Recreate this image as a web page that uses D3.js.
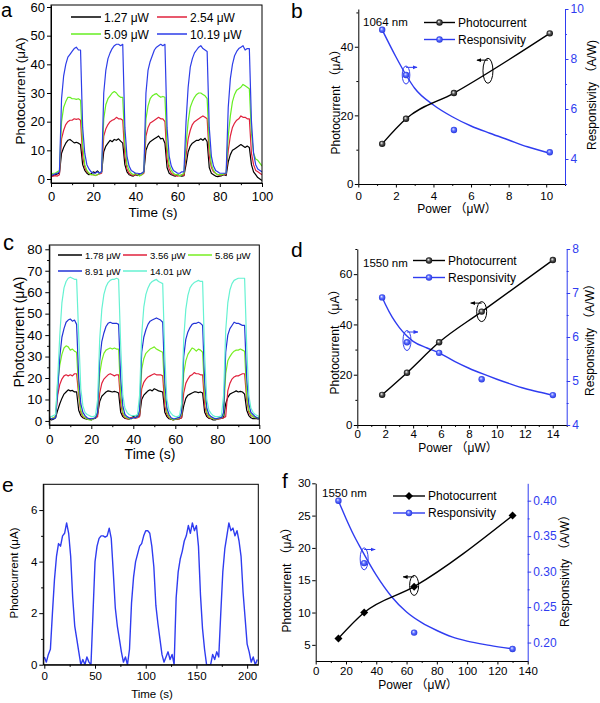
<!DOCTYPE html>
<html>
<head>
<meta charset="utf-8">
<script src="https://cdn.jsdelivr.net/npm/d3@7"></script>
<style>
  body { margin: 0; background: #fff; }
  text { font-family: "Liberation Sans", Arial, "Noto Sans CJK SC", sans-serif; }
</style>
</head>
<body>
<script>
"use strict";

// ---------- panel a : on/off traces, 1 s sampling ----------
const timeA = d3.range(0, 101);
const labelsA = ["1.27 μW", "2.54 μW", "5.09 μW", "10.19 μW"];
const blackA = [1.5,1.2,1.5,1.8,2.0,
  9,11,12.5,13.5,13.8,13.2,12.6,12.8,12.5,12.0,
  5,3,2,1.5,1.8,2.5,2.2,2.8,2.0,2.5,
  9.5,11.5,12.5,13.5,13.0,13.8,13.5,14.0,13.2,12.5,
  5,2.5,1.5,1.2,1.0,1.5,1.2,1.8,2.0,2.5,
  10,12,13,13.5,14.0,14.5,15.0,14.0,14.2,12.5,
  4,2.0,1.5,1.2,1.0,1.5,1.2,1.0,1.2,5,
  9.5,11.5,12.5,13.0,13.5,13.5,14.0,13.5,14.2,13.0,
  4,2,1.5,1.0,0.8,1.0,1.2,1.5,1.2,6,
  8.5,10,10.5,11.0,11.5,12.0,11.5,11.0,11.5,11.0,
  5,2.5,1.5,0.5,0.0,-0.5];
const redA = [0.8,1.0,1.2,1.0,1.5,
  14,17,19,20,20.5,20.5,21,20.8,21,20.5,
  8,4,2.5,2,1.5,1.5,1.2,1.5,1.8,2.0,
  15,17.5,19,20,20.5,20.8,21.5,21.0,21.0,20.5,
  8,3.5,2.0,1.5,1.2,1.5,1.5,1.2,1.5,2.0,
  15,18,19.5,20,20.5,21,21.5,21.0,21.0,20,
  7,3.5,2,1.5,1.2,1.0,1.2,1.5,1.2,8,
  14,17,19,20,20.5,21,21.5,22,21.5,21,
  8,4,2.5,2.0,1.5,1.2,1.5,1.5,1.8,10,
  15,18,19.5,20.5,21,22,21.5,21.5,21,21,
  9,5,3,2.5,2,1.5];
const greenA = [1.5,2.0,2.0,2.5,3.0,
  20,25,27,28.5,28.5,28,28,27.8,28,27.5,
  12,5,3,2,1.5,1.5,1.2,1.5,2,2.5,
  21,26,28,29,30,30.5,30,29,28.5,28.5,
  12,5,3,2,1.5,2,1.5,1.0,1.5,2.5,
  21,25.5,28,29,29.5,29.8,29,28.5,28.8,28.5,
  11,5,3,2,1.5,1.5,1.0,1.5,2,12,
  20,25,27,28.5,29.5,30,30,29.5,29,28,
  12,5,3,2,1.5,1.5,1.5,1.8,2,15,
  22,27,29.5,31,31.5,32,33,32.5,32,31.5,
  16,9,7,6.5,5.5,4.5];
const blueA = [1.0,1.5,1.8,2.0,2.5,
  28,36,40,42.5,43.5,44.5,45.5,46,45,45,
  18,9,5,3.5,2.5,2,2,2.5,2,2.5,
  30,38,42,44,45.5,46.5,47,47,46.5,47,
  18,8,4.5,3,2.5,2,2,1.8,2,2.5,
  30,38,41,43,45,46,46.5,47,46.5,47,
  18,8,4.5,3,2.5,2,2,2.5,2.5,20,
  32,39,42,44,45,46,46.5,45.5,45,44.5,
  18,8,4.5,3,2.5,2,2,2,2,25,
  35,40,43,44.5,45.5,46,46.5,45,45.5,45.5,
  20,9,5,3.5,3,2.5];

// ---------- panel c : on/off traces, 1 s sampling ----------
const timeC = d3.range(0, 101);
const labelsC = ["1.78 μW", "3.56 μW", "5.86 μW", "8.91 μW", "14.01 μW"];
const blackC = [1.0,0.5,0.8,1.5,
  5,8,10.5,12.5,13.5,14.5,14.0,14.2,13.5,13.5,
  5,2.5,1.5,1.0,0.8,1.0,0.5,1.0,1.2,
  3,9,11.5,12.5,13.5,14.0,13.8,13.5,13.8,13.5,13.0,
  4,2,1.2,1.0,0.8,1.5,2.0,2.5,2.0,
  2.5,10,12,13,14,14.5,14,15,14.5,14,13.8,13.5,
  4,2,1.0,0.8,0.5,0.8,0.8,1.0,
  1.5,7,10.5,12,12.5,13.0,13.5,13.5,13.2,13.5,13.0,
  4,2,1.2,1.0,0.5,0.5,0.8,1.0,1.2,
  1.5,8,11,12.5,13.0,13.5,14.0,13.5,13.8,13.5,12.5,
  5,2.5,1.5,1.0,1.2,1.0,1.0];
const redC = [1.5,1.0,1.5,2.0,
  12,17,19.5,21,21.5,21.0,21.5,21.0,22,22,
  12,4,2,1.5,1.0,1.0,0.8,1.0,1.5,
  2,13,17.5,19.5,20.5,21.5,22.0,21.5,21.0,21.5,21.5,
  8,3,1.5,1.0,1.0,1.5,1.5,1.2,1.5,
  2,15,18,19.5,20.5,21,21.5,22,21.5,21.5,21.5,21,
  7,3,1.5,1.0,0.5,0.8,1.0,1.0,
  1.5,13,17.5,19.5,21,21.5,22.5,22,22,21.5,21.5,
  7,3,1.5,1.2,1.0,1.0,0.8,1.0,1.2,
  1.5,2,14,17.5,19.5,20.5,21,21,21.5,22,22,
  10,4,2.5,2,1.5,1.5,1.5];
const greenC = [1.5,1.0,1.5,2.0,
  18,26,31,34,35,34.5,33,33.5,32.5,32,
  14,5,2.5,1.5,1.0,0.5,0.5,1.0,1.5,
  4,22,28,31.5,33,33.5,34,33.5,34,33.5,33.5,
  12,4,2,1.5,1.0,1.0,1.5,1.5,2,
  4,24,29,31.5,32.5,33.5,34,34.5,33.5,33,32.5,32,
  12,4,2,1.0,0.5,0.8,1.0,1.5,
  3,22,28,31,32.5,34,33.5,32.5,33.5,33,32,
  12,4,2,1.5,1.0,1.0,1.0,1.5,1.5,
  3,22,28,30,31.5,32.5,33,33,33.5,33,32.5,
  12,5,3,2,1.5,1.5,1.5];
const blueC = [1.5,1.0,1.0,1.5,
  14,30,39,43,46,47,47.5,46.5,47,45,
  20,8,4,2.5,1.5,1.0,1.0,1.2,1.5,
  4,28,37,41,44,45.5,46,45.5,45.5,45.5,45,
  20,7,3,2,1.5,1.0,1.5,1.5,2,
  5,32,39,42.5,45,46.5,47,47.5,48,47.5,47,46,
  18,6,3,1.5,1.0,1.0,1.5,1.5,
  4,30,38,41.5,43.5,45,45.5,45.5,46,45.5,44.5,
  18,6,3,2,1.5,1.0,1.2,1.5,1.5,
  4,32,40,43,44.5,46,45.5,45.5,45,44.5,44.5,
  20,8,4,3,2,1.5,1.0];
const cyanC = [2,2,2.5,3,
  20,40,55,62,65,66.5,67,66.5,66,66,
  40,15,7,4,3,2.5,2.0,2.0,2.5,
  10,38,52,59,62.5,64.5,65.5,66,66,66.5,66,
  35,12,6,4,3,2.5,2.5,2.5,3,
  12,40,53,59,62,64,65,65.5,66,65,64.5,64,
  30,10,5,3.5,2.5,2,2,2.5,
  8,38,52,58.5,62,63.5,64.5,65,65.5,65,65,
  30,10,5,3.5,2.5,2,2,2,2.5,
  12,42,55,61,64,65.5,66,66.5,66.5,66.5,66.5,
  35,12,6,4,3,2.5,2];

// ---------- panel e : single trace, 2 s sampling ----------
const timeE = d3.range(0, 211, 2);
const currentE = [0.3,0.1,0.4,0.6,2.0,3.3,4.2,4.7,4.6,5.0,
  5.1,5.5,5.1,4.2,2.6,1.5,1.0,0.5,0.0,0.2,
  0.0,0.3,0.1,0.0,2.0,4.0,4.6,4.9,5.0,5.0,
  4.95,5.0,5.3,4.9,3.6,2.2,1.5,1.0,0.5,0.1,
  0.3,0.0,0.6,2.4,3.4,4.0,4.3,4.6,4.7,5.0,
  5.2,5.2,5.1,4.6,3.8,2.3,1.6,1.0,0.4,0.1,
  0.3,0.5,0.2,0.4,0.0,2.6,3.6,4.1,4.4,4.8,
  5.0,5.4,5.1,5.5,5.2,5.4,4.6,2.7,1.4,0.6,
  0.0,0.0,0.0,0.4,0.2,0.5,0.3,2.0,3.6,4.5,
  5.0,5.5,5.2,5.3,5.0,5.2,4.8,4.2,2.8,1.8,
  0.8,0.5,0.1,0.3,0.0,0.2];

// ---------- panels b, d, f : power dependence ----------
const powerB = [1.27, 2.54, 5.09, 10.19];
const currentB = [11.7, 19.0, 26.5, 43.9];
const respB = [9.17, 7.36, 5.16, 4.27];
const fitPowerB = [1.27, 2, 2.54, 3, 4, 5, 6, 7, 8, 9, 10.19];
const fitRespB = [9.17, 8.09, 7.36, 6.83, 6.16, 5.69, 5.32, 5.03, 4.76, 4.49, 4.23];

const powerD = [1.78, 3.56, 5.86, 8.91, 14.01];
const currentD = [12.0, 20.8, 32.9, 45.1, 65.6];
const respD = [6.9, 5.88, 5.64, 5.04, 4.68];
const fitPowerD = [1.78, 2, 2.5, 3, 3.5, 4, 5, 5.86, 7, 8, 9, 10, 11, 12, 13, 14.01];
const fitRespD = [6.9, 6.75, 6.45, 6.22, 6.04, 5.9, 5.75, 5.64, 5.44, 5.29, 5.16, 5.04, 4.93, 4.83, 4.75, 4.68];

const powerF = [15, 32, 65, 130];
const currentF = [6, 10, 14, 25];
const respF = [0.40, 0.312, 0.214, 0.191];
const fitPowerF = [15, 20, 25, 30, 40, 50, 60, 70, 80, 90, 100, 115, 130];
const fitRespF = [0.40, 0.375, 0.352, 0.332, 0.295, 0.265, 0.243, 0.228, 0.217, 0.208, 0.202, 0.196, 0.191];

const BLUE = "#2f3cf0";

const svg = d3.select("body").append("svg")
  .attr("width", 600).attr("height", 703)
  .style("background", "#fff");
const defs = svg.append("defs");

function ball(id, c0, c1, c2) {
  const g = defs.append("radialGradient").attr("id", id)
    .attr("cx", "50%").attr("cy", "50%").attr("r", "55%").attr("fx", "38%").attr("fy", "35%");
  g.append("stop").attr("offset", "0%").attr("stop-color", c0);
  g.append("stop").attr("offset", "45%").attr("stop-color", c1);
  g.append("stop").attr("offset", "100%").attr("stop-color", c2);
}
ball("ballK", "#ffffff", "#555", "#000");
ball("ballB", "#e8ecff", "#5a6cff", "#1f2fd8");

[["ahK", "#000"], ["ahB", BLUE]].forEach(([id, c]) => {
  defs.append("marker").attr("id", id).attr("viewBox", "0 0 10 10")
    .attr("refX", 9).attr("refY", 5).attr("markerWidth", 5).attr("markerHeight", 5)
    .attr("orient", "auto")
    .append("path").attr("d", "M0,1L10,5L0,9z").attr("fill", c);
});

function axis(kind, scale, major, minor, o) {
  const gen = kind === "left" ? d3.axisLeft : kind === "right" ? d3.axisRight : d3.axisBottom;
  const col = o.color || "#000";
  const a = svg.append("g").attr("transform", o.at)
    .call(gen(scale).tickValues(major).tickSize(o.len).tickSizeOuter(0)
      .tickPadding(o.pad).tickFormat(o.fmt || (d => d)));
  a.select(".domain").attr("stroke", col);
  a.selectAll(".tick line").attr("stroke", col);
  a.selectAll(".tick text").attr("font-size", o.fs).attr("fill", col);
  if (minor) {
    const m = svg.append("g").attr("transform", o.at)
      .call(gen(scale).tickValues(minor).tickSize(o.len * 0.55).tickSizeOuter(0).tickFormat(""));
    m.select(".domain").remove();
    m.selectAll("line").attr("stroke", col);
  }
}

function text(x, y, s, fs, opt = {}) {
  return svg.append("text").attr("x", x).attr("y", y)
    .attr("font-size", fs).attr("fill", opt.color || "#000")
    .attr("text-anchor", opt.anchor || "start").text(s);
}

function vtext(x, y, s, fs) {
  svg.append("text").attr("transform", `translate(${x},${y}) rotate(-90)`)
    .attr("font-size", fs).attr("text-anchor", "middle").text(s);
}

function clipFor(id, x, y) {
  defs.append("clipPath").attr("id", id).append("rect")
    .attr("x", x.range()[0]).attr("y", y.range()[1])
    .attr("width", x.range()[1] - x.range()[0])
    .attr("height", y.range()[0] - y.range()[1]);
}

function box(x, y) {
  svg.append("rect")
    .attr("x", x.range()[0]).attr("y", y.range()[1])
    .attr("width", x.range()[1] - x.range()[0])
    .attr("height", y.range()[0] - y.range()[1])
    .attr("fill", "none").attr("stroke", "#000");
}

function traces(x, y, times, series, colors, clip, width) {
  const line = d3.line().x((d, i) => x(times[i])).y(d => y(d));
  svg.append("g").attr("clip-path", `url(#${clip})`)
    .selectAll("path").data(series).join("path")
    .attr("d", line).attr("fill", "none")
    .attr("stroke", (d, i) => colors[i]).attr("stroke-width", width)
    .attr("stroke-linejoin", "round");
}

// ================= panel a =================
const xA = d3.scaleLinear().domain([0, 100]).range([51, 262]);
const yA = d3.scaleLinear().domain([-1.4, 60.7]).range([183, 5]);
const colorsA = ["#000000", "#e0223c", "#66ee22", "#2d3de8"];
clipFor("clipA", xA, yA);
traces(xA, yA, timeA, [blackA, redA, greenA, blueA], colorsA, "clipA", 1.2);
axis("bottom", xA, d3.range(0, 101, 20), d3.range(10, 100, 20), { at: "translate(0,183)", len: 4, pad: 5, fs: 13 });
axis("left", yA, d3.range(0, 61, 10), null, { at: "translate(51,0)", len: 4, pad: 2, fs: 13 });
box(xA, yA);
text(153, 217, "Time (s)", 13.5, { anchor: "middle" });
vtext(25, 91, "Photocurrent (μA)", 13.5);
text(1, 17, "a", 20);
labelsA.forEach((s, i) => {
  const lx = i % 2 === 0 ? 71 : 157, ly = i < 2 ? 17 : 34;
  svg.append("line").attr("x1", lx).attr("x2", lx + 30).attr("y1", ly).attr("y2", ly)
    .attr("stroke", colorsA[i]).attr("stroke-width", 1.5);
  text(lx + 33, ly + 4.5, s, 12);
});

// ================= panel c =================
const xC = d3.scaleLinear().domain([0, 100]).range([49.3, 259.3]);
const yC = d3.scaleLinear().domain([-1.9, 82]).range([425, 245]);
const colorsC = ["#000000", "#e0223c", "#77ee22", "#2233d6", "#66f2d2"];
clipFor("clipC", xC, yC);
traces(xC, yC, timeC, [blackC, redC, greenC, blueC, cyanC], colorsC, "clipC", 1.2);
axis("bottom", xC, d3.range(0, 101, 20), d3.range(10, 100, 20), { at: "translate(0,425)", len: 4, pad: 5, fs: 13.5 });
axis("left", yC, d3.range(0, 81, 10), d3.range(5, 80, 10), { at: "translate(49.3,0)", len: 4, pad: 3, fs: 13.5 });
box(xC, yC);
text(150, 459, "Time (s)", 14, { anchor: "middle" });
vtext(24, 332, "Photocurrent (μA)", 14);
text(3, 250, "c", 22);
labelsC.forEach((s, i) => {
  const lx = [58, 123, 188][i % 3], ly = i < 3 ? 255 : 271;
  svg.append("line").attr("x1", lx).attr("x2", lx + 24).attr("y1", ly).attr("y2", ly)
    .attr("stroke", colorsC[i]).attr("stroke-width", 1.5);
  text(lx + 27, ly + 3.5, s, 9.5);
});

// ================= panel e =================
const xE = d3.scaleLinear().domain([-1, 211]).range([43.3, 258.3]);
const yE = d3.scaleLinear().domain([0, 7]).range([664.7, 484.3]);
clipFor("clipE", xE, yE);
traces(xE, yE, timeE, [currentE], [BLUE], "clipE", 1.4);
axis("bottom", xE, d3.range(0, 201, 50), d3.range(25, 200, 50), { at: "translate(0,664.7)", len: 4, pad: 3, fs: 11.5 });
axis("left", yE, [0, 2, 4, 6], [1, 3, 5], { at: "translate(43.3,0)", len: 4, pad: 2, fs: 11.5 });
box(xE, yE);
text(152, 698, "Time (s)", 11.5, { anchor: "middle" });
vtext(18, 573, "Photocurrent (μA)", 11.5);
text(2, 492, "e", 21);

// ================= panels b, d, f =================
function powerPanel(p) {
  const { x, yL, yR } = p;
  const lineI = d3.line().curve(d3.curveMonotoneX).x((d, i) => x(p.power[i])).y(d => yL(d));
  const lineR = d3.line().curve(d3.curveMonotoneX).x((d, i) => x(p.fitPower[i])).y(d => yR(d));
  svg.append("path").attr("d", lineR(p.fitResp)).attr("fill", "none").attr("stroke", BLUE).attr("stroke-width", 1.4);
  svg.append("path").attr("d", lineI(p.current)).attr("fill", "none").attr("stroke", "#000").attr("stroke-width", 1.4);

  const mark = (sel, color) => p.diamond && color === "k"
    ? sel.append("path").attr("d", "M0,-4L4,0L0,4L-4,0Z").attr("fill", "#000")
    : sel.append("circle").attr("r", 3.2).attr("fill", `url(#ball${color === "k" ? "K" : "B"})`);

  svg.append("g").selectAll("g").data(p.resp).join("g")
    .attr("transform", (d, i) => `translate(${x(p.power[i])},${yR(d)})`)
    .each(function () { mark(d3.select(this), "b"); });
  svg.append("g").selectAll("g").data(p.current).join("g")
    .attr("transform", (d, i) => `translate(${x(p.power[i])},${yL(d)})`)
    .each(function () { mark(d3.select(this), "k"); });

  const [x0, x1] = x.range(), [yb] = yL.range();
  axis("bottom", x, p.xMajor, p.xMinor, { at: `translate(0,${yb})`, len: 3.5, pad: p.xPad, fs: 11.5 });
  axis("left", yL, p.lMajor, p.lMinor, { at: `translate(${x0},0)`, len: 3.5, pad: 1.5, fs: 11.5 });
  axis("right", yR, p.rMajor, p.rMinor, { at: `translate(${x1},0)`, len: 3.5, pad: 2, fs: 12, color: BLUE, fmt: p.rFmt });

  // loops with arrows pointing at the matching axis
  p.loops.forEach(l => {
    const cx = x(l.px), cy = (l.side === "R" ? yR : yL)(l.py);
    const col = l.side === "R" ? BLUE : "#000";
    svg.append("ellipse").attr("cx", cx).attr("cy", cy).attr("rx", l.rx).attr("ry", l.ry)
      .attr("fill", "none").attr("stroke", col).attr("stroke-width", 1);
    const ay = cy - l.ry * 0.85, dir = l.side === "R" ? 1 : -1;
    svg.append("line").attr("x1", cx).attr("x2", cx + dir * 11).attr("y1", ay).attr("y2", ay)
      .attr("stroke", col).attr("marker-end", `url(#ah${l.side === "R" ? "B" : "K"})`);
  });

  // legend
  const L = p.legend;
  text(L.nmX, L.nmY, p.nm, 11.5);
  [["Photocurrent", "#000", "k", L.y1], ["Responsivity", BLUE, "b", L.y2]].forEach(([s, c, k, ly]) => {
    svg.append("line").attr("x1", L.x0).attr("x2", L.x1).attr("y1", ly).attr("y2", ly)
      .attr("stroke", c).attr("stroke-width", 1.4);
    mark(svg.append("g").attr("transform", `translate(${(L.x0 + L.x1) / 2},${ly})`), k);
    text(L.x1 + 3, ly + 4.3, s, 12);
  });

  text(p.xt[0], p.xt[1], "Power （μW）", 12, { anchor: "middle" });
  vtext(p.lt[0], p.lt[1], "Photocurrent （μA）", 12);
  vtext(p.rt[0], p.rt[1], p.rLabel, 12);
  text(p.letter[0], p.letter[1], p.letter[2], 21);
}

powerPanel({
  x: d3.scaleLinear().domain([0, 11]).range([358.3, 565]),
  yL: d3.scaleLinear().domain([0, 51]).range([184, 9]),
  yR: d3.scaleLinear().domain([3, 10]).range([184, 9]),
  power: powerB, current: currentB, resp: respB, fitPower: fitPowerB, fitResp: fitRespB,
  xMajor: d3.range(0, 11, 2), xMinor: d3.range(1, 12, 2), xPad: 4,
  lMajor: [0, 20, 40], lMinor: [10, 30, 50],
  rMajor: [4, 6, 8, 10], rMinor: [3, 5, 7, 9],
  loops: [{ px: 2.54, py: 7.36, side: "R", rx: 3.8, ry: 9 }, { px: 6.9, py: 33, side: "L", rx: 5, ry: 12.5 }],
  legend: { nmX: 363, nmY: 26, x0: 424, x1: 455, y1: 22.5, y2: 39.5 },
  nm: "1064 nm",
  xt: [457, 213], lt: [340, 99], rt: [596, 95], rLabel: "Responsivity （A/W)",
  letter: [291, 18, "b"]
});

powerPanel({
  x: d3.scaleLinear().domain([0, 15]).range([357.3, 566.7]),
  yL: d3.scaleLinear().domain([0, 70]).range([425, 249]),
  yR: d3.scaleLinear().domain([4, 8]).range([425, 249]),
  power: powerD, current: currentD, resp: respD, fitPower: fitPowerD, fitResp: fitRespD,
  xMajor: d3.range(0, 15, 2), xMinor: d3.range(1, 16, 2), xPad: 1.5,
  lMajor: [0, 20, 40, 60], lMinor: [10, 30, 50, 70],
  rMajor: [4, 5, 6, 7, 8], rMinor: [4.5, 5.5, 6.5, 7.5],
  loops: [{ px: 3.56, py: 5.92, side: "R", rx: 4, ry: 10 }, { px: 8.91, py: 45.1, side: "L", rx: 5, ry: 10 }],
  legend: { nmX: 363, nmY: 266.5, x0: 413, x1: 445, y1: 260.5, y2: 277.5 },
  nm: "1550 nm",
  xt: [458, 451.5], lt: [339, 339], rt: [594, 337], rLabel: "Responsivity （A/W）",
  letter: [291, 256.5, "d"]
});

powerPanel({
  x: d3.scaleLinear().domain([0, 140]).range([315.7, 527.7]),
  yL: d3.scaleLinear().domain([2.5, 30]).range([661, 483.3]),
  yR: d3.scaleLinear().domain([0.174, 0.4245]).range([661, 483.3]),
  power: powerF, current: currentF, resp: respF, fitPower: fitPowerF, fitResp: fitRespF,
  diamond: true,
  xMajor: d3.range(0, 141, 20), xMinor: d3.range(10, 140, 20), xPad: 2,
  lMajor: d3.range(5, 31, 5), lMinor: null,
  rMajor: [0.20, 0.25, 0.30, 0.35, 0.40], rMinor: [0.225, 0.275, 0.325, 0.375],
  rFmt: d3.format(".2f"),
  loops: [{ px: 32, py: 0.318, side: "R", rx: 4, ry: 11 }, { px: 65, py: 14.2, side: "L", rx: 4.5, ry: 10 }],
  legend: { nmX: 322, nmY: 497, x0: 393, x1: 425, y1: 496, y2: 513 },
  nm: "1550 nm",
  xt: [418, 689], lt: [291, 577], rt: [569, 568], rLabel: "Responsivity （A/W）",
  letter: [282, 488, "f"]
});
</script>
</body>
</html>
